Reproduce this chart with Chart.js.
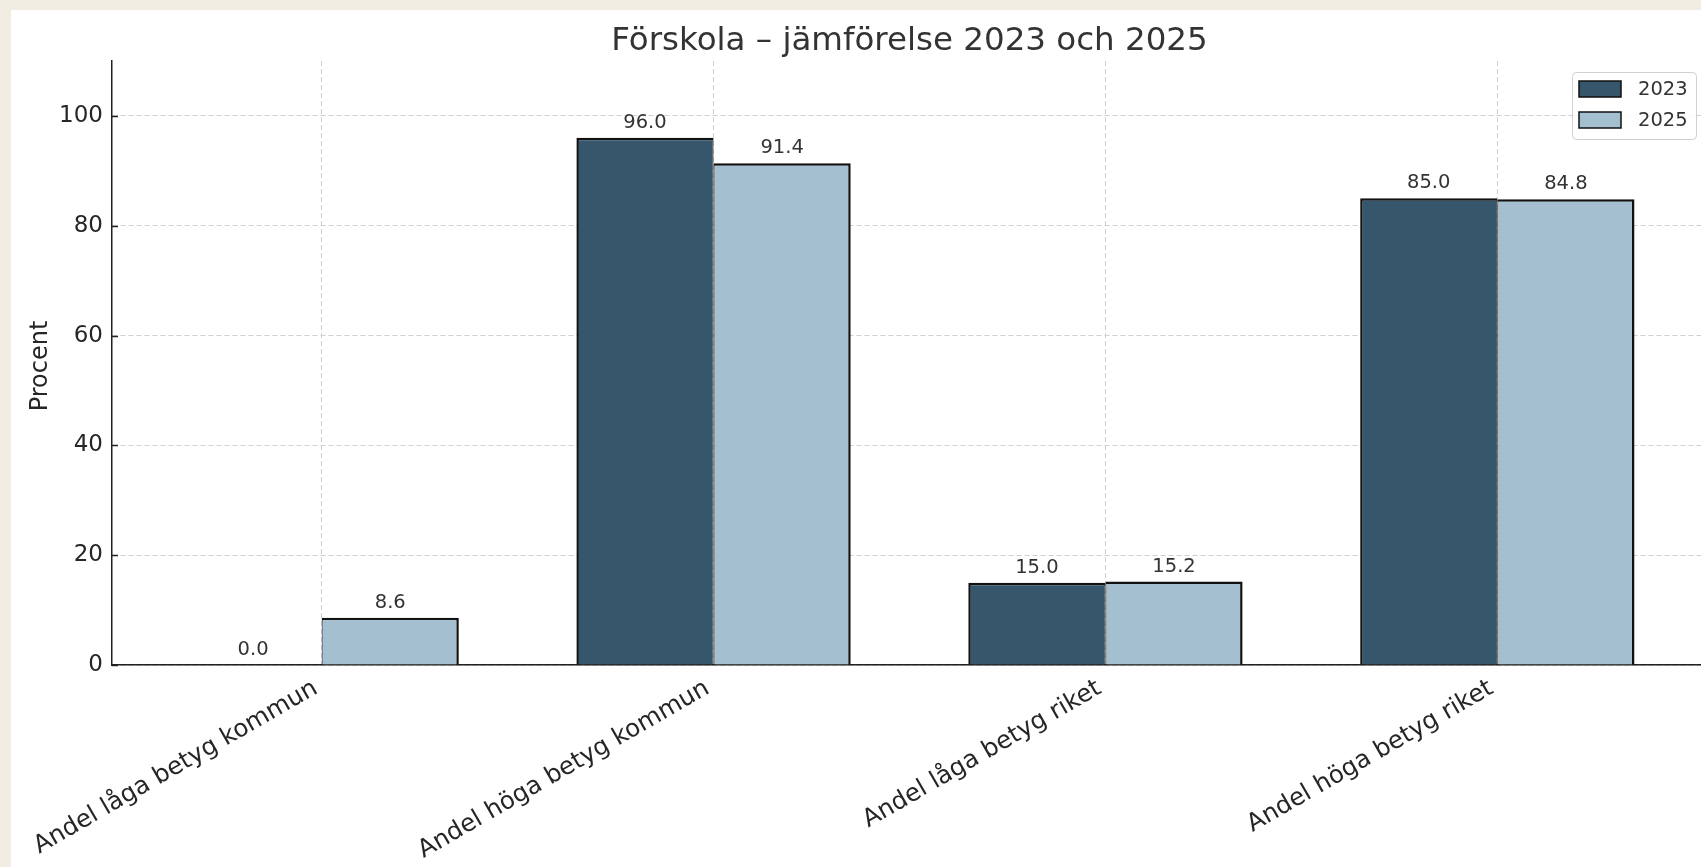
<!DOCTYPE html>
<html>
<head>
<meta charset="utf-8">
<script src="https://cdn.jsdelivr.net/npm/chart.js@4.4.1/dist/chart.umd.min.js"></script>
<style>
  html, body { margin: 0; padding: 0; background: #f1ede3; overflow: hidden; }
  #card { position: absolute; left: 11px; top: 10px; width: 1800px; height: 900px; background: #fff; }
  #chart { position: absolute; left: 0; top: 0; }
</style>
</head>
<body>
<div id="card"></div>
<canvas id="chart" width="1720" height="867"></canvas>
<script>
// categories along x and the two years
const categories = ["Andel låga betyg kommun", "Andel höga betyg kommun", "Andel låga betyg riket", "Andel höga betyg riket"];
const years = ["2023", "2025"];
const values2023 = [0.0, 96.0, 15.0, 85.0];
const values2025 = [8.6, 91.4, 15.2, 84.8];
const yTicks = [0, 20, 40, 60, 80, 100];
const title = "Förskola – jämförelse 2023 och 2025";
const yTitle = "Procent";

const colors = ["#36566b", "#a4bfd0"];
const font = '"DejaVu Sans", sans-serif';

// titles, bar value labels, inward y ticks and a boxed legend
const extras = {
  id: "extras",
  afterDatasetsDraw(chart) {
    const ctx = chart.ctx;
    const area = chart.chartArea;
    ctx.save();
    ctx.font = "32.5px " + font;
    ctx.fillStyle = "#333";
    ctx.textAlign = "center";
    ctx.textBaseline = "alphabetic";
    ctx.fillText(title, (area.left + area.right) / 2, 49.5);

    ctx.save();
    ctx.font = "24px " + font;
    ctx.fillStyle = "#262626";
    ctx.translate(47, (area.top + area.bottom) / 2 + 3);
    ctx.rotate(-Math.PI / 2);
    ctx.fillText(yTitle, 0, 0);
    ctx.restore();

    ctx.font = "19.5px " + font;
    ctx.fillStyle = "#333";
    chart.data.datasets.forEach((ds, di) => {
      chart.getDatasetMeta(di).data.forEach((bar, i) => {
        ctx.fillText(ds.data[i].y.toFixed(1), bar.x, bar.y - 10);
      });
    });
    const y = chart.scales.y;
    ctx.strokeStyle = "#222";
    ctx.lineWidth = 1.5;
    y.ticks.forEach(t => {
      const py = Math.round(y.getPixelForValue(t.value)) + 0.5;
      ctx.beginPath();
      ctx.moveTo(y.right, py);
      ctx.lineTo(y.right + 6, py);
      ctx.stroke();
    });
    ctx.restore();
  },
  afterDraw(chart) {
    const ctx = chart.ctx;
    const area = chart.chartArea;
    const w = 124, h = 67;
    const left = area.right - 11 - w, top = area.top + 11;
    ctx.save();
    ctx.beginPath();
    ctx.roundRect(left + 0.5, top + 0.5, w, h, 4);
    ctx.fillStyle = "rgba(255,255,255,0.85)";
    ctx.fill();
    ctx.strokeStyle = "#d0d0d0";
    ctx.lineWidth = 1;
    ctx.stroke();
    ctx.font = "19.5px " + font;
    ctx.textBaseline = "middle";
    ctx.textAlign = "left";
    chart.data.datasets.forEach((ds, i) => {
      const cy = top + 17 + i * 31;
      ctx.fillStyle = ds.backgroundColor;
      ctx.fillRect(left + 7, cy - 8, 42, 16);
      ctx.strokeStyle = "#111";
      ctx.lineWidth = 1.5;
      ctx.strokeRect(left + 7, cy - 8, 42, 16);
      ctx.fillStyle = "#333";
      ctx.fillText(ds.label, left + 66, cy + 1);
    });
    ctx.restore();
  }
};

new Chart(document.getElementById("chart"), {
  type: "bar",
  data: {
    datasets: [
      {
        label: years[0],
        data: values2023.map((v, i) => ({ x: i, y: v })),
        backgroundColor: colors[0],
        borderColor: "#111",
        borderWidth: { top: 2.5, left: 2.5, right: 1, bottom: 0 },
        borderSkipped: "start",
      },
      {
        label: years[1],
        data: values2025.map((v, i) => ({ x: i, y: v })),
        backgroundColor: colors[1],
        borderColor: "#111",
        borderWidth: { top: 2.5, left: 1, right: 2.5, bottom: 0 },
        borderSkipped: "start",
      },
    ],
  },
  options: {
    responsive: false,
    animation: false,
    layout: { padding: { left: 0, right: 13, top: 61, bottom: 0 } },
    datasets: { bar: { categoryPercentage: 0.7, barPercentage: 1 } },
    plugins: {
      legend: { display: false },
      tooltip: { enabled: false },
      title: { display: false },
    },
    scales: {
      x: {
        type: "linear",
        offset: false,
        min: -0.535,
        max: 3.535,
        afterBuildTicks: s => { s.ticks = categories.map((c, i) => ({ value: i })); },
        afterFit: s => { s.height = 202; },
        grid: { offset: false, color: "#cfcfcf", lineWidth: 1, drawTicks: false },
        border: { display: true, color: "#222", width: 1.5, dash: [5, 3] },
        ticks: {
          autoSkip: false,
          minRotation: 30,
          maxRotation: 30,
          padding: 9,
          labelOffset: -6,
          color: "#262626",
          font: { family: font, size: 24.5 },
          callback: v => categories[v],
        },
      },
      y: {
        min: 0,
        max: 110,
        afterBuildTicks: s => { s.ticks = yTicks.map(v => ({ value: v })); },
        afterFit: s => { s.width = 112; },
        grid: { color: "#cfcfcf", lineWidth: 1, drawTicks: false },
        border: { display: true, color: "#222", width: 1.5, dash: [5, 3] },
        ticks: {
          padding: 9,
          color: "#262626",
          font: { family: font, size: 23 },
        },
      },
    },
  },
  plugins: [extras],
});
</script>
</body>
</html>
